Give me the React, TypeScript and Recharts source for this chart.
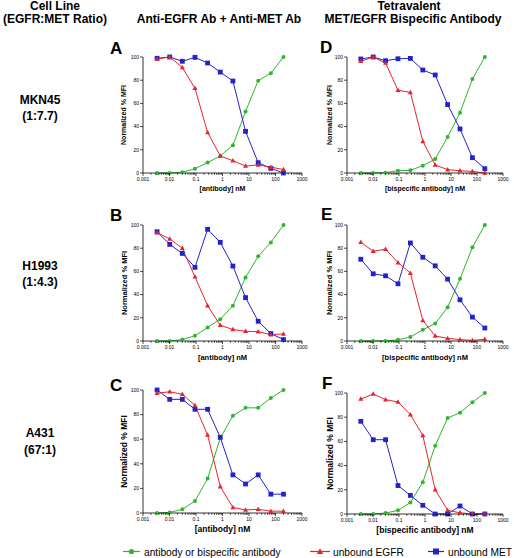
import React from 'react';
import { LineChart, Line, XAxis, YAxis } from 'recharts';

// ---------- data ----------
const concentrations = [0.0034, 0.0102, 0.0305, 0.0914, 0.274, 0.823, 2.47, 7.41, 22.2, 66.7, 200];
const xMajorTicks = [0.001, 0.01, 0.1, 1, 10, 100, 1000];
const xTickLabels = ['0.001', '0.01', '0.1', '1', '10', '100', '1000'];
const minorMultipliers = [2, 3, 4, 5, 6, 7, 8, 9];
const yTicks = [0, 20, 40, 60, 80, 100];

// A: MKN45, anti-EGFR + anti-MET
const aAntibody = [0, 0, 0.6, 3.7, 9, 14.7, 24, 53, 79.6, 86, 100];
const aEGFR = [98.3, 100, 91, 73, 35, 14.7, 10.6, 6, 7, 5, 3];
const aMET = [98.9, 100, 96.3, 99.7, 94.8, 87, 79.3, 35.9, 8.9, 4, 0];
// B: H1993, anti-EGFR + anti-MET
const bAntibody = [0, 0, 1.2, 4.6, 11.6, 18.8, 30.4, 54.8, 73, 85, 100];
const bEGFR = [93.4, 88, 80, 55.4, 30.4, 13.6, 9.9, 8.4, 8, 5.5, 6.1];
const bMET = [94.2, 83.3, 75.5, 63.5, 96.3, 85, 64.6, 37.4, 17, 6.4, 1.2];
// C: A431, anti-EGFR + anti-MET
const cAntibody = [0, 0.5, 3, 9.7, 28, 61, 79, 85.5, 85.5, 93.5, 100];
const cEGFR = [97.3, 98.6, 96.5, 87.5, 63.4, 21.4, 4.5, 2.5, 3, 1.5, 1.5];
const cMET = [100, 92.4, 92.4, 84.3, 84.3, 61.5, 31, 23.6, 31, 15.3, 15.3];
// D: MKN45, bispecific
const dAntibody = [0, 0, 0.3, 2, 2.3, 6.3, 12, 31, 52, 81, 100];
const dEGFR = [96.3, 100, 94.8, 71.3, 69.5, 27.3, 6.9, 2.9, 2, 1.4, 0];
const dMET = [98.3, 100, 96.8, 98.5, 98.8, 88.8, 84.5, 59, 38, 13.2, 3.7];
// E: H1993, bispecific
const eAntibody = [0, 0, 0, 1, 3.5, 9.7, 15, 29, 53.6, 80.8, 100];
const eEGFR = [85.1, 77.4, 79.1, 67.6, 58.5, 17.8, 4.3, 2.3, 1.2, 0.5, 1.5];
const eMET = [70.5, 57.9, 56.2, 49.3, 84.5, 72.2, 64.8, 53.3, 35.5, 20.6, 11.2];
// F: A431, bispecific
const fAntibody = [0, 0, 0.8, 3, 9.5, 26.2, 56.5, 79.3, 83.7, 92.3, 100];
const fEGFR = [95, 99.2, 94.5, 92.6, 82, 65, 20, 3, 1, 0, 0];
const fMET = [76.6, 61.4, 61.4, 23.5, 15.4, 7.2, 0, 0, 6.6, 0, 0];

const GREEN = '#2fb52f';
const RED = '#e3262d';
const BLUE = '#2323cc';
const FONT = '"Liberation Sans", Arial, sans-serif';

const minorTicks: number[] = [];
xMajorTicks.slice(0, -1).forEach((m) => minorMultipliers.forEach((k) => minorTicks.push(m * k)));
const allXTicks = [...xMajorTicks, ...minorTicks].sort((p, q) => p - q);

const majorIndex = (v: number) =>
  xMajorTicks.findIndex((t) => Math.abs(Math.log10(t) - Math.log10(v)) < 1e-6);

const LogTick = (props: any) => {
  const { x, y, payload, fs } = props;
  const idx = majorIndex(payload.value);
  const major = idx >= 0;
  return (
    <g>
      <line x1={x} x2={x} y1={y} y2={y + (major ? 3 : 1.8)} stroke="#000" strokeWidth={0.7} />
      {major && (
        <text x={x} y={y + 4 + fs * 0.8} textAnchor="middle" fontSize={fs} fill="#000">
          {xTickLabels[idx]}
        </text>
      )}
    </g>
  );
};

const squareDot = (props: any) => {
  const { cx, cy, index } = props;
  if (cx == null || cy == null) return <g key={`s-${index}`} />;
  return <rect key={`s-${index}`} x={cx - 2.4} y={cy - 2.4} width={4.8} height={4.8} fill={BLUE} />;
};

const triDot = (props: any) => {
  const { cx, cy, index } = props;
  if (cx == null || cy == null) return <g key={`t-${index}`} />;
  return (
    <path
      key={`t-${index}`}
      d={`M${cx},${cy - 2.7} L${cx + 2.5},${cy + 1.8} L${cx - 2.5},${cy + 1.8} Z`}
      fill={RED}
    />
  );
};

type PanelProps = {
  left: number;
  top: number;
  width: number;
  height: number;
  yAxisWidth: number;
  marginRight: number;
  antibody: number[];
  egfr: number[];
  met: number[];
  xTitle: string;
  yLabelDx: number;
  titleSize: number;
  tickSize: number;
};

const Panel = (p: PanelProps) => {
  const data = concentrations.map((c, i) => ({
    x: c,
    antibody: p.antibody[i],
    egfr: p.egfr[i],
    met: p.met[i],
  }));
  return (
    <div style={{ position: 'absolute', left: p.left, top: p.top }}>
      <LineChart
        width={p.width}
        height={p.height}
        data={data}
        margin={{ top: 12, right: p.marginRight, bottom: 0, left: 0 }}
      >
        <XAxis
          dataKey="x"
          type="number"
          scale="log"
          domain={[0.001, 1000]}
          ticks={allXTicks}
          interval={0}
          height={30}
          tickSize={0}
          tickMargin={0}
          tickLine={false}
          axisLine={{ stroke: '#000', strokeWidth: 0.8 }}
          tick={(tp: any) => <LogTick {...tp} fs={p.tickSize} />}
          label={{
            value: p.xTitle,
            position: 'center',
            dy: 1,
            style: { fontSize: p.titleSize, fontWeight: 'bold', fill: '#000' },
          }}
        />
        <YAxis
          type="number"
          domain={[0, 100]}
          ticks={yTicks}
          interval={0}
          width={p.yAxisWidth}
          tickSize={3}
          tickMargin={1}
          axisLine={{ stroke: '#000', strokeWidth: 0.8 }}
          tickLine={{ stroke: '#000', strokeWidth: 0.7 }}
          tick={{ fontSize: p.tickSize, fill: '#000' }}
          label={{
            value: 'Normalized % MFI',
            angle: -90,
            position: 'center',
            dx: p.yLabelDx,
            style: { fontSize: p.titleSize, fontWeight: 'bold', fill: '#000', textAnchor: 'middle' },
          }}
        />
        <Line
          dataKey="antibody"
          stroke={GREEN}
          strokeWidth={1}
          dot={{ r: 2, fill: GREEN, stroke: GREEN, strokeWidth: 0 }}
          activeDot={false}
          isAnimationActive={false}
        />
        <Line
          dataKey="met"
          stroke={BLUE}
          strokeWidth={1}
          dot={squareDot}
          activeDot={false}
          isAnimationActive={false}
        />
        <Line
          dataKey="egfr"
          stroke={RED}
          strokeWidth={1}
          dot={triDot}
          activeDot={false}
          isAnimationActive={false}
        />
      </LineChart>
    </div>
  );
};

const LEFT = { left: 95, width: 220, yAxisWidth: 48, marginRight: 13, yLabelDx: 5 };
const RIGHT = { left: 305, width: 209, yAxisWidth: 42, marginRight: 11, yLabelDx: 3.5 };

export default function App() {
  return (
    <div
      style={{
        position: 'absolute',
        left: 0,
        top: 0,
        width: 514,
        height: 558,
        background: '#fff',
        fontFamily: FONT,
        overflow: 'hidden',
      }}
    >
      <Panel {...LEFT} top={45} height={158} antibody={aAntibody} egfr={aEGFR} met={aMET}
        xTitle="[antibody] nM" titleSize={7} tickSize={5} />
      <Panel {...LEFT} top={213} height={158} antibody={bAntibody} egfr={bEGFR} met={bMET}
        xTitle="[antibody] nM" titleSize={7.5} tickSize={5} />
      <Panel {...LEFT} top={378} height={165} antibody={cAntibody} egfr={cEGFR} met={cMET}
        xTitle="[antibody] nM" titleSize={8.5} tickSize={5} />
      <Panel {...RIGHT} top={45} height={158} antibody={dAntibody} egfr={dEGFR} met={dMET}
        xTitle="[bispecific antibody] nM" titleSize={7} tickSize={5} />
      <Panel {...RIGHT} top={213} height={158} antibody={eAntibody} egfr={eEGFR} met={eMET}
        xTitle="[bispecific antibody] nM" titleSize={7.5} tickSize={5} />
      <Panel {...RIGHT} top={381} height={163} antibody={fAntibody} egfr={fEGFR} met={fMET}
        xTitle="[bispecific antibody] nM" titleSize={8.5} tickSize={5} />

      <svg
        width={514}
        height={558}
        style={{ position: 'absolute', left: 0, top: 0, pointerEvents: 'none' }}
        fontFamily={FONT}
      >
        <g fontWeight="bold" fontSize={12} textAnchor="middle" fill="#000">
          <text x={55} y={9.5}>Cell Line</text>
          <text x={55} y={22.5}>(EGFR:MET Ratio)</text>
          <text x={219} y={22.5}>Anti-EGFR Ab + Anti-MET Ab</text>
          <text x={409} y={9.5}>Tetravalent</text>
          <text x={413} y={22.5}>MET/EGFR Bispecific Antibody</text>
          <text x={40} y={104}>MKN45</text>
          <text x={40} y={120}>(1:7.7)</text>
          <text x={40} y={270}>H1993</text>
          <text x={40} y={286}>(1:4.3)</text>
          <text x={40} y={437}>A431</text>
          <text x={40} y={454}>(67:1)</text>
        </g>
        <g fontWeight="bold" fontSize={17} fill="#000">
          <text x={110} y={54}>A</text>
          <text x={110} y={221}>B</text>
          <text x={110} y={391}>C</text>
          <text x={320} y={53}>D</text>
          <text x={321} y={220}>E</text>
          <text x={322} y={389}>F</text>
        </g>
        <g fontSize={10.2} fill="#000">
          <line x1={123} x2={140} y1={551.5} y2={551.5} stroke={GREEN} strokeWidth={1.2} />
          <circle cx={131.5} cy={551.5} r={2.6} fill={GREEN} />
          <text x={144} y={555.5}>antibody or bispecific antibody</text>
          <line x1={310} x2={330} y1={551.5} y2={551.5} stroke={RED} strokeWidth={1.2} />
          <path d="M320,548.3 L323.2,554 L316.8,554 Z" fill={RED} />
          <text x={333} y={555.5}>unbound EGFR</text>
          <line x1={428} x2={444} y1={551.5} y2={551.5} stroke={BLUE} strokeWidth={1.2} />
          <rect x={433} y={548.5} width={6} height={6} fill={BLUE} />
          <text x={448} y={555.5}>unbound MET</text>
        </g>
      </svg>
    </div>
  );
}
